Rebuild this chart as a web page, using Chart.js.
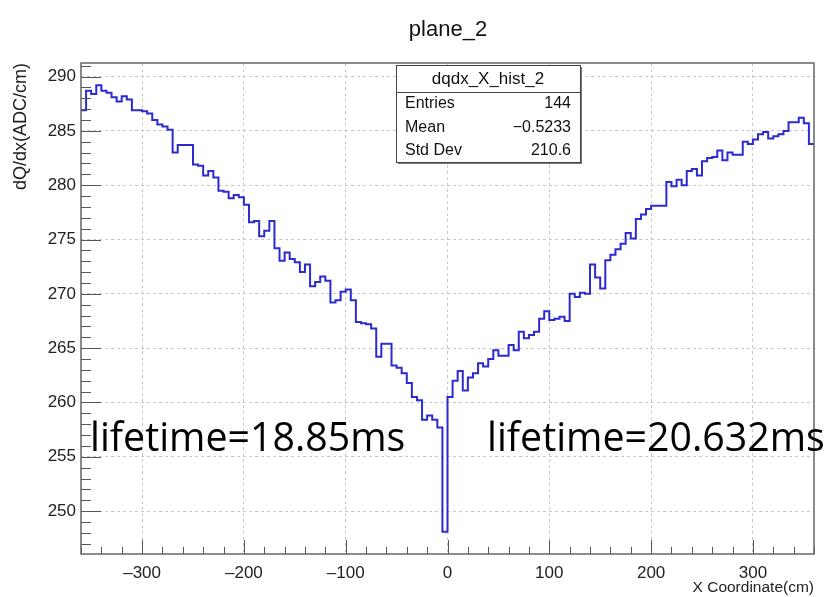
<!DOCTYPE html>
<html>
<head>
<meta charset="utf-8">
<script src="https://cdn.jsdelivr.net/npm/chart.js@4.4.1/dist/chart.umd.min.js"></script>
<style>
  html, body { margin: 0; padding: 0; background: #fff; }
  canvas { display: block; }
</style>
</head>
<body>
<canvas id="myChart" width="825" height="597"></canvas>
<script>
// histogram binning (cm)
var xLow = -360;
var binWidth = 5;

// bin contents, left to right (144 bins)
var binValues = [
  286.9, 288.7, 288.4, 289.2, 288.7, 288.5, 288.1, 287.7, 288.2, 287.9,
  286.9, 286.9, 286.8, 286.6, 286.0, 285.6, 285.4, 285.1, 283.0, 283.7,
  283.7, 283.7, 281.9, 281.8, 280.9, 281.3, 280.7, 279.5, 279.4, 278.8,
  279.1, 278.9, 278.2, 276.6, 276.7, 275.3, 275.8, 276.7, 274.2, 273.05,
  273.8, 273.2, 272.9, 272.0, 272.7, 270.7, 271.1, 271.6, 271.2, 269.2,
  269.4, 270.2, 270.4, 269.4, 267.4, 267.3, 267.2, 266.8, 264.2, 265.4,
  265.4, 263.4, 263.2, 262.7, 261.8, 260.5, 260.2, 258.4, 258.8, 258.4,
  257.7, 248.1, 260.5, 262.0, 262.9, 261.1, 262.3, 262.7, 263.6, 263.3,
  264.0, 264.8, 264.3, 264.3, 265.3, 264.8, 266.5, 265.9, 266.2, 266.5,
  267.7, 268.4, 267.6, 267.7, 267.9, 267.5, 270.0, 269.7, 270.1, 270.0,
  272.7, 271.5, 270.5, 273.1, 273.6, 274.1, 274.6, 275.6, 275.1, 276.9,
  277.3, 277.8, 278.1, 278.1, 278.1, 280.3, 279.9, 280.5, 280.0, 281.3,
  281.5, 280.9, 282.2, 282.5, 282.6, 283.2, 282.3, 283.0, 282.8, 282.8,
  284.0, 283.8, 284.2, 284.7, 284.9, 284.3, 284.5, 284.7, 285.0, 285.8,
  285.8, 286.2, 285.7, 283.8
];

// axes
var xTicks = [-300, -200, -100, 0, 100, 200, 300];
var yTicks = [250, 255, 260, 265, 270, 275, 280, 285, 290];
var yRange = [246.05, 291.25];

// texts
var titleText = 'plane_2';
var xTitle = 'X Coordinate(cm)';
var yTitle = 'dQ/dx(ADC/cm)';
var statsName = 'dqdx_X_hist_2';
var statsLabels = ['Entries', 'Mean', 'Std Dev'];
var statsValues = ['144', '\u22120.5233', '210.6'];
var noteLeft = 'lifetime=18.85ms';
var noteRight = 'lifetime=20.632ms';

var helv = '"Liberation Sans", Arial, sans-serif';

// low edges of every bin, plus the last upper edge
var points = binValues.map(function(v, i) {
    return { x: xLow + i * binWidth, y: v };
});
points.push({ x: xLow + binValues.length * binWidth, y: binValues[binValues.length - 1] });

// frame, inner ticks, title, stats box and the notes
var rootDecor = {
    id: 'rootDecor',
    afterDraw: function(chart) {
        var ctx = chart.ctx;
        var a = chart.chartArea;
        var xs = chart.scales.x;
        var ys = chart.scales.y;
        ctx.save();

        // inner ticks
        ctx.strokeStyle = '#555';
        ctx.lineWidth = 1;
        ctx.beginPath();
        for (var v = Math.ceil(xs.min / 20) * 20; v <= xs.max; v += 20) {
            var px = Math.round(xs.getPixelForValue(v)) + 0.5;
            var len = (v % 100 === 0) ? 14 : 7;
            ctx.moveTo(px, a.bottom);
            ctx.lineTo(px, a.bottom - len);
        }
        for (var w = Math.ceil(ys.min); w <= ys.max; w += 1) {
            var py = Math.round(ys.getPixelForValue(w)) + 0.5;
            var l2 = (w % 5 === 0) ? 20 : 10;
            ctx.moveTo(a.left, py);
            ctx.lineTo(a.left + l2, py);
        }
        ctx.stroke();

        // frame
        ctx.strokeStyle = '#666';
        ctx.lineWidth = 1.5;
        ctx.strokeRect(a.left, a.top, a.right - a.left, a.bottom - a.top);

        // title
        ctx.fillStyle = '#111';
        ctx.font = '22px ' + helv;
        ctx.textAlign = 'center';
        ctx.textBaseline = 'middle';
        ctx.fillText(titleText, 448, 30);

        // stats box
        var bx = 396, by = 65, bw = 184, bh = 97;
        ctx.fillStyle = '#777';
        ctx.fillRect(bx + 2, by + 2, bw, bh);
        ctx.fillStyle = '#fff';
        ctx.fillRect(bx, by, bw, bh);
        ctx.strokeStyle = '#444';
        ctx.lineWidth = 1;
        ctx.strokeRect(bx + 0.5, by + 0.5, bw, bh);
        ctx.beginPath();
        ctx.moveTo(bx, by + 27.5);
        ctx.lineTo(bx + bw, by + 27.5);
        ctx.stroke();
        ctx.fillStyle = '#111';
        ctx.font = '17px ' + helv;
        ctx.textAlign = 'center';
        ctx.fillText(statsName, bx + bw / 2, by + 14);
        ctx.font = '16px ' + helv;
        var rowY = [104, 128, 151];
        for (var i = 0; i < statsLabels.length; i++) {
            ctx.textAlign = 'left';
            ctx.fillText(statsLabels[i], bx + 9, rowY[i]);
            ctx.textAlign = 'right';
            ctx.fillText(statsValues[i], bx + bw - 9, rowY[i]);
        }

        // lifetime notes
        var fam = '"Open Sans", Lato, sans-serif';
        ctx.font = '40px ' + fam;
        var size = 40 * 315 / ctx.measureText(noteLeft).width;
        ctx.font = size.toFixed(1) + 'px ' + fam;
        ctx.fillStyle = '#000';
        ctx.textAlign = 'left';
        ctx.textBaseline = 'alphabetic';
        ctx.fillText(noteLeft, 90, 451);
        ctx.fillText(noteRight, 487, 451);

        ctx.restore();
    }
};

window.onload = function() {
    var ctx = document.getElementById('myChart').getContext('2d');
    new Chart(ctx, {
        type: 'line',
        data: {
            datasets: [{
                data: points,
                stepped: true,
                borderColor: '#2b2bcf',
                borderWidth: 2,
                pointRadius: 0,
                fill: false
            }]
        },
        options: {
            responsive: false,
            animation: false,
            devicePixelRatio: 1,
            layout: { padding: { top: 63, right: 11, bottom: 0, left: 0 } },
            plugins: {
                legend: { display: false },
                tooltip: { enabled: false }
            },
            scales: {
                x: {
                    type: 'linear',
                    min: xLow,
                    max: xLow + binValues.length * binWidth,
                    afterFit: function(s) { s.height = 43; },
                    afterBuildTicks: function(s) {
                        s.ticks = xTicks.map(function(v) { return { value: v }; });
                    },
                    grid: { color: '#c8c8c8', lineWidth: 1, drawTicks: false },
                    border: { display: false, dash: [3, 3] },
                    ticks: {
                        padding: 9,
                        color: '#222',
                        autoSkip: false,
                        maxRotation: 0,
                        font: { family: helv, size: 17 },
                        callback: function(v) { return String(v).replace('-', '\u2013'); }
                    },
                    title: {
                        display: true,
                        text: xTitle,
                        align: 'end',
                        color: '#222',
                        font: { family: helv, size: 15.5 },
                        padding: { top: 0, bottom: 0 }
                    }
                },
                y: {
                    type: 'linear',
                    min: yRange[0],
                    max: yRange[1],
                    afterFit: function(s) { s.width = 81; },
                    afterBuildTicks: function(s) {
                        s.ticks = yTicks.map(function(v) { return { value: v }; });
                    },
                    grid: { color: '#c8c8c8', lineWidth: 1, drawTicks: false },
                    border: { display: false, dash: [3, 3] },
                    ticks: {
                        padding: 5,
                        color: '#222',
                        autoSkip: false,
                        font: { family: helv, size: 17 }
                    },
                    title: {
                        display: true,
                        text: yTitle,
                        align: 'end',
                        color: '#222',
                        font: { family: helv, size: 18 },
                        padding: { top: 10, bottom: 0 }
                    }
                }
            }
        },
        plugins: [rootDecor]
    });
};
</script>
</body>
</html>
